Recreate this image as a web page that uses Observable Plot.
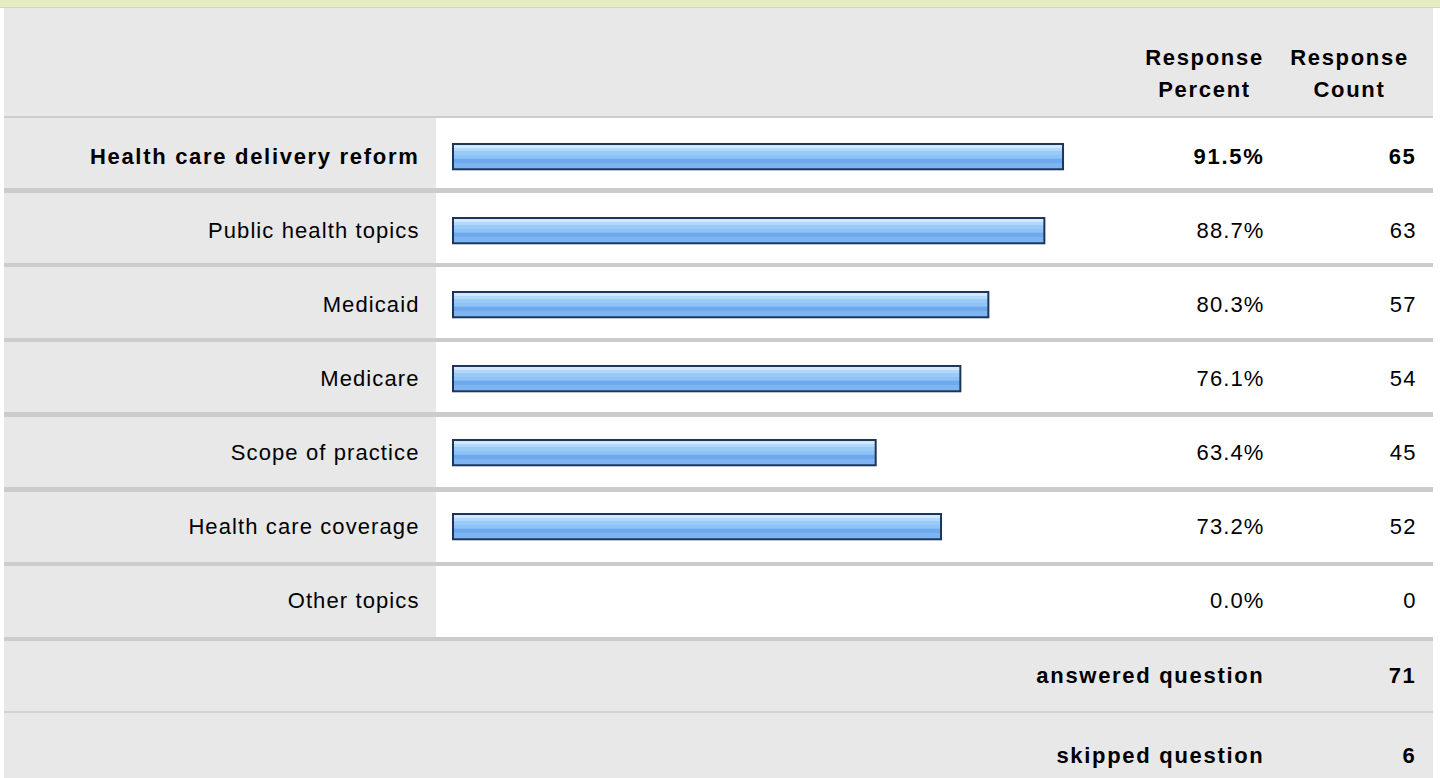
<!DOCTYPE html>
<html>
<head>
<meta charset="utf-8">
<script src="https://cdn.jsdelivr.net/npm/d3@7"></script>
<script src="https://cdn.jsdelivr.net/npm/@observablehq/plot@0.6"></script>
<style>
  html, body { margin: 0; padding: 0; background: #fff; }
  #wrap { position: relative; width: 1440px; height: 778px; overflow: hidden; }
  .bg { position: absolute; }
  #chart { position: absolute; left: 0; top: 0; }
  #chart svg text { letter-spacing: 1.1px; }
  #chart svg g[font-weight="bold"] text { letter-spacing: 1.7px; }
</style>
</head>
<body>
<div id="wrap">
  <div class="bg" style="left:0;top:0;width:1440px;height:7px;background:#e5ecc1"></div>
  <div class="bg" style="left:0;top:7px;width:1440px;height:1px;background:#d3d6c6"></div>
  <div class="bg" style="left:4px;top:8px;width:1429px;height:770px;background:#e8e8e8"></div>
  <div class="bg" style="left:436px;top:118px;width:997px;height:523px;background:#ffffff"></div>
  <div class="bg" style="left:4px;top:116px;width:1429px;height:2px;background:#cdcdcd"></div>
  <div class="bg" style="left:4px;top:711px;width:1429px;height:2px;background:#d2d2d2"></div>
  <div id="seps"></div>
  <div id="chart"></div>
</div>
<script>
// ---- data ----
const topics = [
  "Health care delivery reform",
  "Public health topics",
  "Medicaid",
  "Medicare",
  "Scope of practice",
  "Health care coverage",
  "Other topics"
];
const percents = [91.5, 88.7, 80.3, 76.1, 63.4, 73.2, 0.0];
const counts = [65, 63, 57, 54, 45, 52, 0];
const headers = ["Response\nPercent", "Response\nCount"];
const footerLabels = ["answered question", "skipped question"];
const footerCounts = [71, 6];
const boldTopic = "Health care delivery reform";

const rows = topics.map((t, i) => ({topic: t, pct: percents[i], count: counts[i]}));
const boldRows = rows.filter(d => d.topic === boldTopic);
const plainRows = rows.filter(d => d.topic !== boldTopic);
const fmtPct = v => d3.format(".1f")(v) + "%";

// row separators (background decoration aligned to rows)
const bandTop = 118, bandBottom = 641;
const bw = (bandBottom - bandTop) / topics.length;
const seps = document.getElementById("seps");
topics.forEach((t, i) => {
  const d = document.createElement("div");
  d.className = "bg";
  d.style.cssText = `left:4px;top:${(bandTop + bw * (i + 1) - 4.5).toFixed(1)}px;width:1429px;height:4.5px;background:#cccccc`;
  seps.appendChild(d);
});

const font = {fontFamily: "'Liberation Sans', Arial, sans-serif", fontSize: 22, fill: "#000"};

const textCols = (data, weight) => [
  Plot.text(data, {...font, fontWeight: weight, y: "topic", text: "topic", frameAnchor: "left", dx: 419, dy: -2, textAnchor: "end"}),
  Plot.text(data, {...font, fontWeight: weight, y: "topic", text: d => fmtPct(d.pct), frameAnchor: "left", dx: 1264, dy: -2, textAnchor: "end"}),
  Plot.text(data, {...font, fontWeight: weight, y: "topic", text: d => String(d.count), frameAnchor: "left", dx: 1416, dy: -2, textAnchor: "end"})
];

const chart = Plot.plot({
  width: 1440,
  height: 778,
  margin: 0,
  style: {background: "transparent", overflow: "visible"},
  x: {domain: [0, 100], range: [453, 1119.7], axis: null},
  y: {domain: topics, range: [bandTop, bandBottom], padding: 0, axis: null},
  marks: [
    Plot.barX(rows.filter(d => d.pct > 0), {
      y: "topic", x1: 0, x2: "pct",
      fill: "url(#barGrad)", stroke: "#1d355b", strokeWidth: 2,
      insetTop: 23, insetBottom: bw - 23 - 26
    }),
    ...textCols(plainRows, "normal"),
    ...textCols(boldRows, "bold"),
    Plot.text([headers[0]], {...font, fontWeight: "bold", frameAnchor: "top-left", dx: 1204, dy: 70, textAnchor: "middle", lineAnchor: "middle", lineHeight: 1.45}),
    Plot.text([headers[1]], {...font, fontWeight: "bold", frameAnchor: "top-left", dx: 1349, dy: 70, textAnchor: "middle", lineAnchor: "middle", lineHeight: 1.45}),
    Plot.text([footerLabels[0]], {...font, fontWeight: "bold", frameAnchor: "top-left", dx: 1264, dy: 667, textAnchor: "end"}),
    Plot.text([String(footerCounts[0])], {...font, fontWeight: "bold", frameAnchor: "top-left", dx: 1416, dy: 667, textAnchor: "end"}),
    Plot.text([footerLabels[1]], {...font, fontWeight: "bold", frameAnchor: "top-left", dx: 1264, dy: 747, textAnchor: "end"}),
    Plot.text([String(footerCounts[1])], {...font, fontWeight: "bold", frameAnchor: "top-left", dx: 1416, dy: 747, textAnchor: "end"})
  ]
});

d3.select(chart).insert("defs", ":first-child").html(`
  <linearGradient id="barGrad" x1="0" y1="0" x2="0" y2="1">
    <stop offset="0" stop-color="#d2e8fc"/>
    <stop offset="0.14" stop-color="#d2e8fc"/>
    <stop offset="0.15" stop-color="#b2d9fb"/>
    <stop offset="0.28" stop-color="#b2d9fb"/>
    <stop offset="0.29" stop-color="#9acbf8"/>
    <stop offset="0.42" stop-color="#9acbf8"/>
    <stop offset="0.43" stop-color="#8ec3f5"/>
    <stop offset="0.57" stop-color="#8ec3f5"/>
    <stop offset="0.58" stop-color="#6ea8ed"/>
    <stop offset="0.74" stop-color="#6ea8ed"/>
    <stop offset="0.75" stop-color="#7db4f1"/>
    <stop offset="1" stop-color="#7db4f1"/>
  </linearGradient>`);

document.getElementById("chart").appendChild(chart);
</script>
</body>
</html>
